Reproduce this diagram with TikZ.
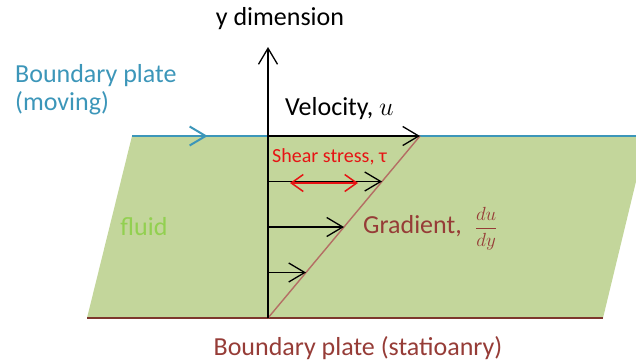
\documentclass[tikz,border=0pt]{standalone}
\usepackage{fix-cm}
\usepackage{fontspec}
\setmainfont{Carlito}
\usetikzlibrary{arrows.meta, positioning, calc, decorations.markings}
\definecolor{plateblue}{RGB}{60,150,185}
\definecolor{fluidfill}{RGB}{195,214,155}
\definecolor{fluidtext}{RGB}{146,208,80}
\definecolor{gradbrown}{RGB}{150,60,55}
\definecolor{slopeline}{RGB}{180,110,100}
\definecolor{basebrown}{RGB}{125,55,45}
\definecolor{stressred}{RGB}{230,20,20}

\begin{document}
\begin{tikzpicture}[x=1pt, y=-1pt,
    lbl/.style={inner sep=0pt, font=\fontsize{26}{28}\selectfont},
    vel/.style={-{Straight Barb[length=16pt,width=19pt]}, line width=1.3pt, color=black},
    stress/.style={{Straight Barb[length=12pt,width=17pt]}-{Straight Barb[length=12pt,width=17pt]},
                   line width=1.5pt, color=stressred},
    plate/.style={line width=2pt, color=plateblue}
  ]
  \useasboundingbox (0,0) rectangle (636,362);
  \clip (0,0) rectangle (636,362);
  \coordinate (tl) at (132,136);
  \coordinate (tr) at (647,136);
  \coordinate (te) at (636,136);
  \coordinate (br) at (603,318);
  \coordinate (bl) at (87,318);
  \coordinate (o) at (268,318);
  \coordinate (u) at (420,136);
  \coordinate (ytop) at (268,47);
  \coordinate (sl) at (290,183);
  \coordinate (sr) at (358,183);
  \fill[fluidfill] (tl) -- (tr) -- (br) -- (bl) -- cycle;
  \draw[plate, postaction={decorate}, decoration={markings,
        mark=at position 0.15 with {\arrow{Straight Barb[length=16pt,width=19pt]}}}] (tl) -- (te);
  \draw[line width=2pt, basebrown] (bl) -- (br);
  \draw[line width=1.4pt, slopeline] (o) -- (u);
  \draw[vel] (o) -- (ytop);
  \foreach \t in {0.25,0.5,0.75,1}
    \draw[vel] ($(o)!\t!(o|-u)$) -- ($(o)!\t!(u)$);
  \draw[stress] (sl) -- (sr);
  \node[lbl, anchor=base] (ydim) at (280,25) {y dimension};
  \node[lbl, anchor=west, align=left, text=plateblue] (moving) at (15,90) {Boundary plate\\(moving)};
  \node[lbl, anchor=base west] (velo) at (285,115) {Velocity, $u$};
  \node[lbl, anchor=base west, text=stressred, font=\fontsize{20}{22}\selectfont] (tau) at (272,162) {Shear stress, τ};
  \node[lbl, text=fluidtext] (fluid) at (144,227) {fluid};
  \node[lbl, anchor=base west, text=gradbrown] (grad) at (363,233)
    {Gradient,\; {\fontsize{19}{21}\selectfont$\displaystyle\frac{du}{dy}$}};
  \node[lbl, text=gradbrown] (stat) at (358,348) {Boundary plate (statioanry)};
\end{tikzpicture}
\end{document}
